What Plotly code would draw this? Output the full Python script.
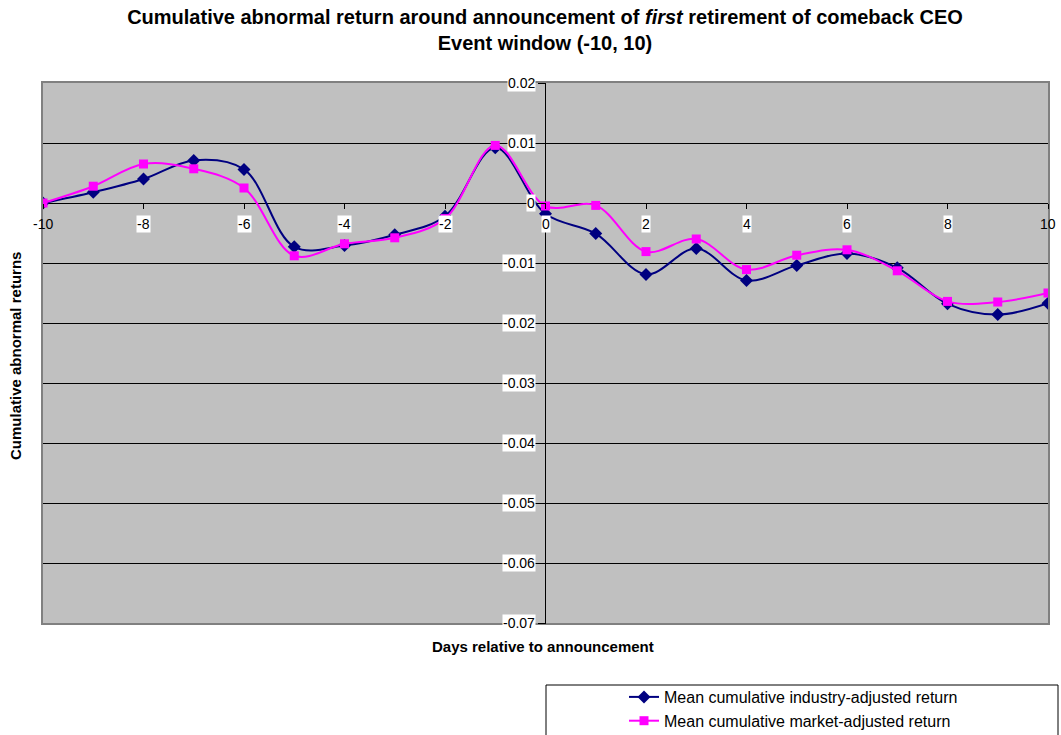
import plotly.graph_objects as go

days = list(range(-10, 11))
industry = [0.0, 0.0018, 0.0040, 0.0071, 0.0056, -0.0073, -0.0071, -0.0053, -0.0022, 0.0092,
            -0.0018, -0.0051, -0.0119, -0.0076, -0.0129, -0.0104, -0.0084, -0.0108, -0.0168, -0.0186, -0.0167]
market = [0.0, 0.0028, 0.0065, 0.0057, 0.0025, -0.0088, -0.0068, -0.0058, -0.0026, 0.0096,
          -0.0005, -0.0004, -0.0081, -0.0060, -0.0111, -0.0087, -0.0078, -0.0113, -0.0164, -0.0165, -0.0150]
y_ticks = [0.02, 0.01, 0.0, -0.01, -0.02, -0.03, -0.04, -0.05, -0.06, -0.07]
x_ticks = [-10, -8, -6, -4, -2, 0, 2, 4, 6, 8, 10]

FONT = "Liberation Sans, Arial, sans-serif"
W, H = 1061, 735
L, R, T, B = 43, 13, 83, 112

fig = go.Figure()
fig.add_trace(go.Scatter(
    x=days, y=industry, mode="lines+markers", name="Mean cumulative industry-adjusted return",
    line=dict(color="#000080", width=2, shape="spline"),
    marker=dict(symbol="diamond", size=10, color="#000080"),
))
fig.add_trace(go.Scatter(
    x=days, y=market, mode="lines+markers", name="Mean cumulative market-adjusted return",
    line=dict(color="#FF00FF", width=2, shape="spline"),
    marker=dict(symbol="square", size=9, color="#FF00FF"),
))

def ylab(v):
    if abs(v) < 1e-12:
        return "0"
    return f"{v:.2f}"

ann = []
for v in y_ticks:
    ann.append(dict(x=0, y=v, xref="x", yref="y", text=ylab(v), showarrow=False,
                    xanchor="right", yanchor="middle", xshift=-10,
                    font=dict(family=FONT, size=14, color="black"),
                    bgcolor="white", borderpad=0))
for d in x_ticks:
    edge = d in (x_ticks[0], x_ticks[-1])
    ann.append(dict(x=d, y=0, xref="x", yref="y", text=str(d), showarrow=False,
                    xanchor="center", yanchor="top", yshift=-12,
                    font=dict(family=FONT, size=14, color="black"),
                    bgcolor="rgba(0,0,0,0)" if edge else "white", borderpad=0))

pw, ph = W - L - R, H - T - B
ann.append(dict(x=(543 - L) / pw, y=(H - B - 646) / ph, xref="paper", yref="paper",
                text="<b>Days relative to announcement</b>", showarrow=False,
                xanchor="center", yanchor="middle", font=dict(family=FONT, size=15, color="black")))
ann.append(dict(x=(15 - L) / pw, y=(H - B - 356) / ph, xref="paper", yref="paper",
                text="<b>Cumulative abnormal returns</b>", showarrow=False, textangle=-90,
                xanchor="center", yanchor="middle", font=dict(family=FONT, size=15, color="black")))

shapes = [dict(type="rect", xref="paper", yref="paper",
               x0=(546 - L) / pw, x1=(1058 - L) / pw,
               y0=(H - B - 740) / ph, y1=(H - B - 685) / ph,
               line=dict(color="black", width=1), fillcolor="white", layer="below")]

fig.update_layout(
    width=W, height=H,
    margin=dict(l=L, r=R, t=T, b=B, autoexpand=False),
    paper_bgcolor="white", plot_bgcolor="#C0C0C0",
    font=dict(family=FONT, color="black"),
    title=dict(text="<b>Cumulative abnormal return around announcement of <i>first</i> retirement of comeback CEO<br>Event window (-10, 10)</b>",
               x=545 / W, xanchor="center", xref="container", y=1 - 24 / H, yanchor="top", yref="container",
               font=dict(family=FONT, size=20, color="black")),
    xaxis=dict(range=[-10, 10], showgrid=False, zeroline=True, zerolinecolor="black", zerolinewidth=1,
               showticklabels=False, ticks="", showline=True, mirror=True, linecolor="#808080", linewidth=2),
    yaxis=dict(range=[-0.07, 0.02], tickvals=y_ticks, showgrid=True, gridcolor="black", gridwidth=1,
               zeroline=True, zerolinecolor="black", zerolinewidth=1,
               showticklabels=False, ticks="", showline=True, mirror=True, linecolor="#808080", linewidth=2),
    xaxis2=dict(range=[-10, 10], overlaying="x", anchor="free", position=7 / 9, tickvals=x_ticks,
                ticks="outside", ticklen=5, tickcolor="black", showticklabels=False, showgrid=False,
                zeroline=False, showline=False),
    yaxis2=dict(range=[-0.07, 0.02], overlaying="y", anchor="free", position=0.5, side="left",
                tickvals=y_ticks, ticks="outside", ticklen=8, tickcolor="black", showticklabels=False,
                showgrid=False, zeroline=False, showline=False),
    showlegend=True,
    legend=dict(x=(624 - L) / pw, y=(H - B - 680) / ph, xanchor="left", yanchor="top",
                bgcolor="rgba(0,0,0,0)", borderwidth=0,
                font=dict(family=FONT, size=16, color="black"), tracegroupgap=0),
    annotations=ann, shapes=shapes,
)
# blank trace that activates the free axes used for the tick marks
fig.add_trace(go.Scatter(x=[None], y=[None], xaxis="x2", yaxis="y2", showlegend=False, hoverinfo="skip"))

fig.write_html("out.html")
